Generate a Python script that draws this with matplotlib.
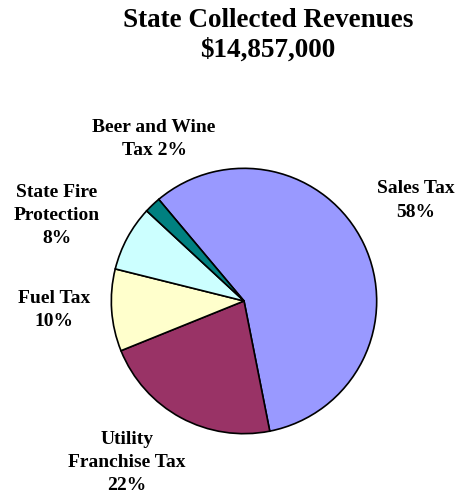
import matplotlib
matplotlib.use("Agg")
import matplotlib.pyplot as plt

# revenue shares, clockwise starting just right of the beer/wine wedge
labels = ["Sales Tax", "Utility\nFranchise Tax", "Fuel Tax", "State Fire\nProtection", "Beer and Wine\nTax"]
shares = [58, 22, 10, 8, 2]
colors = ["#9999FF", "#993366", "#FFFFCC", "#CCFFFF", "#008080"]
title_lines = ["State Collected Revenues", "$14,857,000"]

# label anchor: centre x and first baseline (pixels from top), line step
label_pos = [(416, 193, 24), (127, 444, 23), (54, 303, 23), (57, 197, 23), (154, 132, 23)]

plt.rcParams["font.family"] = "Liberation Serif"
plt.rcParams["font.weight"] = "bold"

W, H = 458, 495
fig = plt.figure(figsize=(W / 100, H / 100), dpi=100)

cx, cy, r = 244, 301, 134
ax = fig.add_axes([(cx - r) / W, (H - cy - r) / H, 2 * r / W, 2 * r / H])
ax.pie(shares, colors=colors, startangle=130, counterclock=False, radius=1,
       wedgeprops=dict(edgecolor="black", linewidth=1.2))
ax.set_xlim(-1.01, 1.01)
ax.set_ylim(-1.01, 1.01)
ax.set_aspect("equal")
ax.axis("off")


def put_lines(lines, x, y0, step, size):
    for i, line in enumerate(lines):
        fig.text(x / W, 1 - (y0 + i * step) / H, line, ha="center", va="baseline",
                 fontsize=size, fontweight="bold")


put_lines(title_lines, 268, 27, 30, 19.5)

for lab, pct, (x, y0, step) in zip(labels, shares, label_pos):
    lines = lab.split("\n")
    # the short last word shares a line with the percentage
    if lines[-1] == "Tax" and len(lines) > 1 and lab.startswith("Beer"):
        lines[-1] = "Tax %d%%" % pct
    else:
        lines.append("%d%%" % pct)
    put_lines(lines, x, y0, step, 14)

fig.savefig("out.png", dpi=100)
